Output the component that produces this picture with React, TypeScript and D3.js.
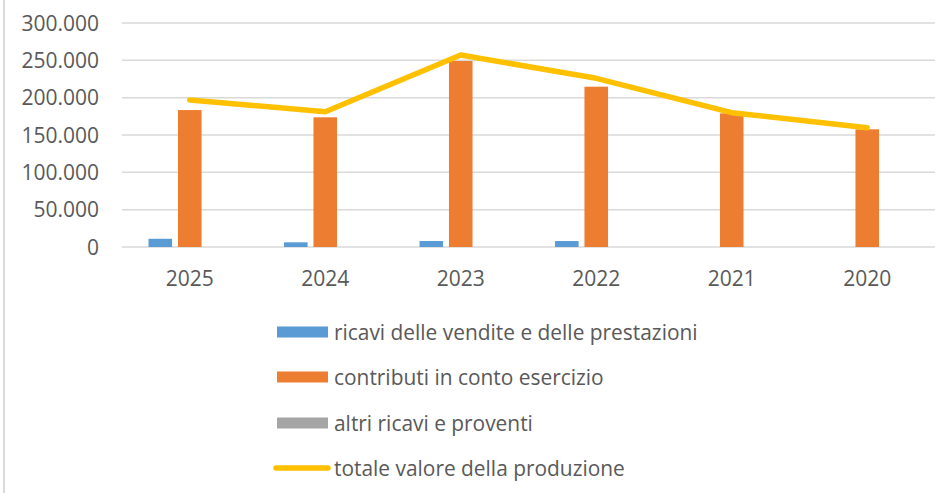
import * as d3 from 'd3';
import React, { useRef, useEffect } from 'react';

const years = ['2025', '2024', '2023', '2022', '2021', '2020'];
const ricavi = [11000, 6300, 8000, 8000, 0, 0];
const contributi = [183400, 173700, 249100, 214700, 179000, 157600];
const altri = [0, 0, 0, 0, 0, 0];
const totale = [196900, 181200, 257100, 225900, 179900, 159800];
const yTicks = [0, 50000, 100000, 150000, 200000, 250000, 300000];

const seriesNames = [
    'ricavi delle vendite e delle prestazioni',
    'contributi in conto esercizio',
    'altri ricavi e proventi',
];
const lineName = 'totale valore della produzione';
const colors = ['#5B9BD5', '#ED7D31', '#A5A5A5'];
const lineColor = '#FFC000';

function App() {
    const ref = useRef<SVGSVGElement>(null);

    useEffect(() => {
        const svg = d3.select(ref.current);
        svg.selectAll('*').remove();

        const font = '"Open Sans", sans-serif';
        const textColor = '#595959';
        const left = 122, right = 935, top = 23, bottom = 247;

        const x0 = d3.scaleBand().domain(years).range([left, right]).padding(0);
        const x1 = d3.scaleBand().domain(seriesNames)
            .range([0, x0.bandwidth()]).paddingInner(0.2).paddingOuter(0.9);
        const y = d3.scaleLinear().domain([0, 300000]).range([bottom, top]);
        const fmt = (v: number) => d3.format(',')(v).replace(/,/g, '.');

        // left border of the chart area
        svg.append('line')
            .attr('x1', 4).attr('x2', 4).attr('y1', 0).attr('y2', 493)
            .attr('stroke', '#D9D9D9').attr('stroke-width', 2);

        // gridlines
        svg.append('g').selectAll('line')
            .data(yTicks).enter().append('line')
            .attr('x1', left).attr('x2', right)
            .attr('y1', d => y(d)).attr('y2', d => y(d))
            .attr('stroke', '#D9D9D9').attr('stroke-width', 1.5);

        // y labels
        svg.append('g').selectAll('text')
            .data(yTicks).enter().append('text')
            .attr('x', 99).attr('y', d => y(d))
            .attr('dy', '0.36em')
            .attr('text-anchor', 'end')
            .attr('font-family', font).attr('font-size', 21)
            .attr('fill', textColor)
            .text(d => fmt(d));

        // x labels
        svg.append('g').selectAll('text')
            .data(years).enter().append('text')
            .attr('x', d => (x0(d) as number) + x0.bandwidth() / 2)
            .attr('y', 286)
            .attr('text-anchor', 'middle')
            .attr('font-family', font).attr('font-size', 21)
            .attr('fill', textColor)
            .text(d => d);

        // bars
        const seriesData = [ricavi, contributi, altri];
        seriesData.forEach((vals, i) => {
            svg.append('g').selectAll('rect')
                .data(vals).enter().append('rect')
                .attr('x', (d, j) => (x0(years[j]) as number) + (x1(seriesNames[i]) as number))
                .attr('y', d => y(d))
                .attr('width', x1.bandwidth())
                .attr('height', d => y(0) - y(d))
                .attr('fill', colors[i]);
        });

        // total line
        const line = d3.line<number>()
            .x((d, j) => (x0(years[j]) as number) + x0.bandwidth() / 2)
            .y(d => y(d));
        svg.append('path')
            .datum(totale)
            .attr('d', line)
            .attr('fill', 'none')
            .attr('stroke', lineColor)
            .attr('stroke-width', 5.5)
            .attr('stroke-linecap', 'round')
            .attr('stroke-linejoin', 'round');

        // legend
        const legY = [332, 377, 423, 468];
        seriesNames.forEach((name, i) => {
            svg.append('rect')
                .attr('x', 277).attr('y', legY[i] - 5.5)
                .attr('width', 51).attr('height', 11)
                .attr('fill', colors[i]);
            svg.append('text')
                .attr('x', 334).attr('y', legY[i])
                .attr('dy', '0.36em')
                .attr('font-family', font).attr('font-size', 20.9)
                .attr('fill', textColor)
                .text(name);
        });
        svg.append('line')
            .attr('x1', 276).attr('x2', 328)
            .attr('y1', legY[3]).attr('y2', legY[3])
            .attr('stroke', lineColor).attr('stroke-width', 5.5)
            .attr('stroke-linecap', 'round');
        svg.append('text')
            .attr('x', 334).attr('y', legY[3])
            .attr('dy', '0.36em')
            .attr('font-family', font).attr('font-size', 20.9)
            .attr('fill', textColor)
            .text(lineName);
    }, []);

    return (
        <svg ref={ref} width={948} height={493}
            style={{ position: 'absolute', left: 0, top: 0, background: '#fff' }} />
    );
}

export default App;
